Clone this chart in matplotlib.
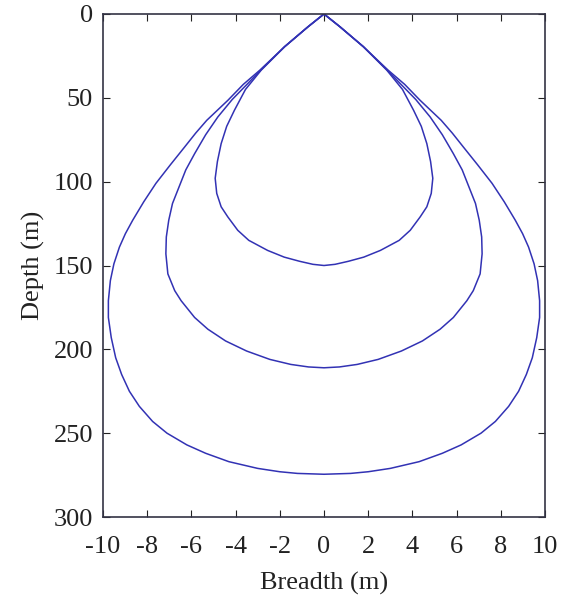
import numpy as np
import matplotlib
matplotlib.use("Agg")
import matplotlib.pyplot as plt

plt.rcParams['font.family'] = ['Liberation Serif', 'DejaVu Serif']
plt.rcParams['axes.unicode_minus'] = False

# right-half profiles: depth (m) and half breadth (m)
inner_depth = [0, 7.6, 19.5, 33.5, 45, 57.4, 67, 77.3, 88, 98, 107, 115, 121, 129, 135,
               141, 145, 147.5, 149.3, 150]
inner_breadth = [0, 0.72, 1.78, 2.84, 3.55, 4.05, 4.4, 4.65, 4.82, 4.92, 4.85, 4.65, 4.35, 3.9, 3.4,
                 2.55, 1.8, 1.1, 0.5, 0]

middle_depth = [0, 7.6, 19.5, 33.5, 41.4, 51, 61.4, 72, 83.3, 93, 103, 113, 123, 133, 143,
                155, 165, 171, 181, 188, 195, 201, 206, 209, 210.5, 211]
middle_breadth = [0, 0.72, 1.78, 2.86, 3.44, 4.15, 4.8, 5.35, 5.85, 6.25, 6.55, 6.85, 7.02, 7.13, 7.15,
                  7.06, 6.75, 6.46, 5.85, 5.25, 4.45, 3.5, 2.45, 1.5, 0.7, 0]

outer_depth = [0, 7.6, 19.5, 33.5, 42, 51.4, 63.4, 71, 79.3, 90, 101, 112, 123, 131, 139,
               149, 159, 171, 181, 193, 205, 215, 225, 234, 243, 250, 257, 262, 267,
               271, 273, 274, 274.5]
outer_breadth = [0, 0.72, 1.78, 2.9, 3.65, 4.34, 5.3, 5.8, 6.3, 6.95, 7.6, 8.15, 8.65, 8.98, 9.25,
                 9.5, 9.66, 9.75, 9.75, 9.62, 9.42, 9.15, 8.8, 8.35, 7.75, 7.1, 6.2, 5.35, 4.3,
                 3.0, 2.0, 1.2, 0]

profiles = [(inner_depth, inner_breadth), (middle_depth, middle_breadth), (outer_depth, outer_breadth)]

fig = plt.figure(figsize=(5.62, 6.03), dpi=100)
ax = fig.add_axes([0.183, 0.1426, 0.787, 0.8342])

for depth, breadth in profiles:
    d = np.array(depth)
    b = np.array(breadth)
    # mirror the right half to close the outline
    xs = np.concatenate([b, -b[::-1]])
    ys = np.concatenate([d, d[::-1]])
    ax.plot(xs, ys, color='#3232b4', linewidth=1.1, solid_joinstyle='round')

ax.set_xlim(-10, 10)
ax.set_ylim(300, 0)
ax.set_xticks(np.arange(-10, 11, 2))
ax.set_yticks(np.arange(0, 301, 50))
ax.tick_params(direction='in', top=True, right=True, labelsize=19, length=5,
               colors='#222222', labelcolor='#222222')
ax.tick_params(axis='x', pad=14)
ax.tick_params(axis='y', pad=7)
ax.set_xlabel('Breadth (m)', fontsize=19, labelpad=10, color='#222222')
ax.set_ylabel('Depth (m)', fontsize=19, labelpad=6, color='#222222')
for s in ax.spines.values():
    s.set_color('#333344')
    s.set_linewidth(1.2)

fig.savefig('out.png', dpi=100)
